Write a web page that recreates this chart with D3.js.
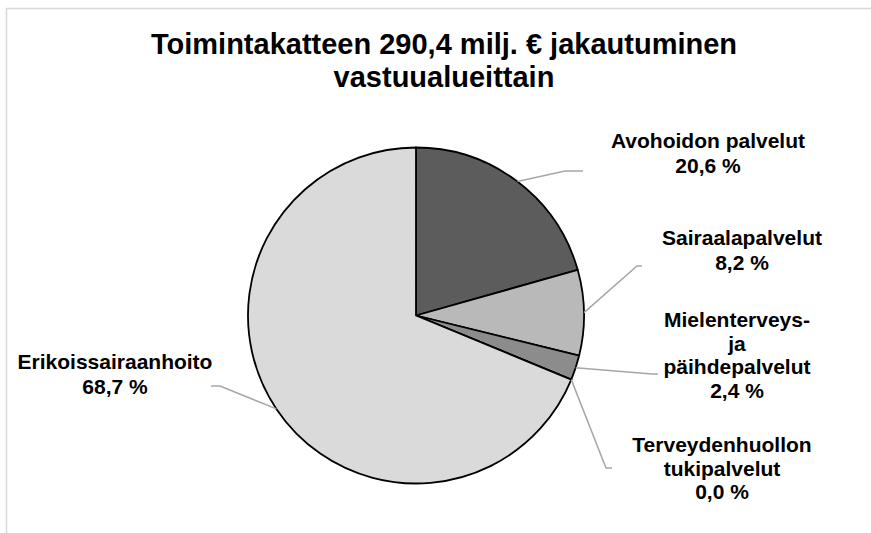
<!DOCTYPE html>
<html>
<head>
<meta charset="utf-8">
<script src="https://cdn.jsdelivr.net/npm/d3@7"></script>
<style>
  html, body { margin: 0; padding: 0; background: #fff; }
  svg { display: block; }
  text { font-family: "Liberation Sans", Arial, sans-serif; font-weight: bold; fill: #000; }
</style>
</head>
<body>
<svg id="chart" width="871" height="533"></svg>
<script>
// ---- data ----
const titleLines = ["Toimintakatteen 290,4 milj. € jakautuminen", "vastuualueittain"];
const categories = [
  ["Avohoidon palvelut"],
  ["Sairaalapalvelut"],
  ["Mielenterveys-", "ja", "päihdepalvelut"],
  ["Terveydenhuollon", "tukipalvelut"],
  ["Erikoissairaanhoito"]
];
const values = [20.6, 8.2, 2.4, 0.0, 68.7];
const valueLabels = ["20,6 %", "8,2 %", "2,4 %", "0,0 %", "68,7 %"];
const colors = ["#5c5c5c", "#b9b9b9", "#8c8c8c", "#a0a0a0", "#dadada"];

// ---- layout (label anchor: center x, first baseline y; leader elbow) ----
const labelLayout = [
  { x: 708, y: 148, bend: [565, 171], end: [583, 171] },
  { x: 742, y: 245, bend: [637, 266], end: [642, 266] },
  { x: 737, y: 327, bend: [652, 374], end: [658, 374] },
  { x: 722, y: 452, bend: [606, 468], end: [612, 468] },
  { x: 115, y: 369, bend: [220, 386], end: [211, 386] }
];

const svg = d3.select("#chart");

// frame
svg.append("rect")
  .attr("x", 6.5).attr("y", 8.5)
  .attr("width", 900).attr("height", 600)
  .attr("fill", "none").attr("stroke", "#d9d9d9").attr("stroke-width", 1.5);

// title
const title = svg.append("text").attr("text-anchor", "middle").style("font-size", "29px");
titleLines.forEach((t, i) => {
  title.append("tspan").attr("x", 444).attr("y", 54 + i * 33).text(t);
});

// pie
const cx = 416, cy = 315.5, r = 168;
const pie = d3.pie().sort(null).value(d => d)(values);
const arc = d3.arc().innerRadius(0).outerRadius(r);
const g = svg.append("g").attr("transform", `translate(${cx},${cy})`);

// leader lines
const leaders = svg.append("g");
pie.forEach((p, i) => {
  const mid = (p.startAngle + p.endAngle) / 2;
  const sx = cx + r * Math.sin(mid);
  const sy = cy - r * Math.cos(mid);
  const L = labelLayout[i];
  leaders.append("polyline")
    .attr("points", [[sx, sy], L.bend, L.end].map(q => q.join(",")).join(" "))
    .attr("fill", "none").attr("stroke", "#a6a6a6").attr("stroke-width", 1.5);
});

g.selectAll("path").data(pie).join("path")
  .attr("d", arc)
  .attr("fill", (d, i) => colors[i])
  .attr("stroke", "#000").attr("stroke-width", 1.8).attr("stroke-linejoin", "round");

// labels
const labels = svg.append("g");
categories.forEach((lines, i) => {
  const L = labelLayout[i];
  const t = labels.append("text").attr("text-anchor", "middle").style("font-size", "21px");
  const all = lines.concat([valueLabels[i]]);
  const step = all.length > 2 ? 23.5 : 24.5;
  all.forEach((s, j) => {
    t.append("tspan").attr("x", L.x).attr("y", L.y + j * step).text(s);
  });
});
</script>
</body>
</html>
